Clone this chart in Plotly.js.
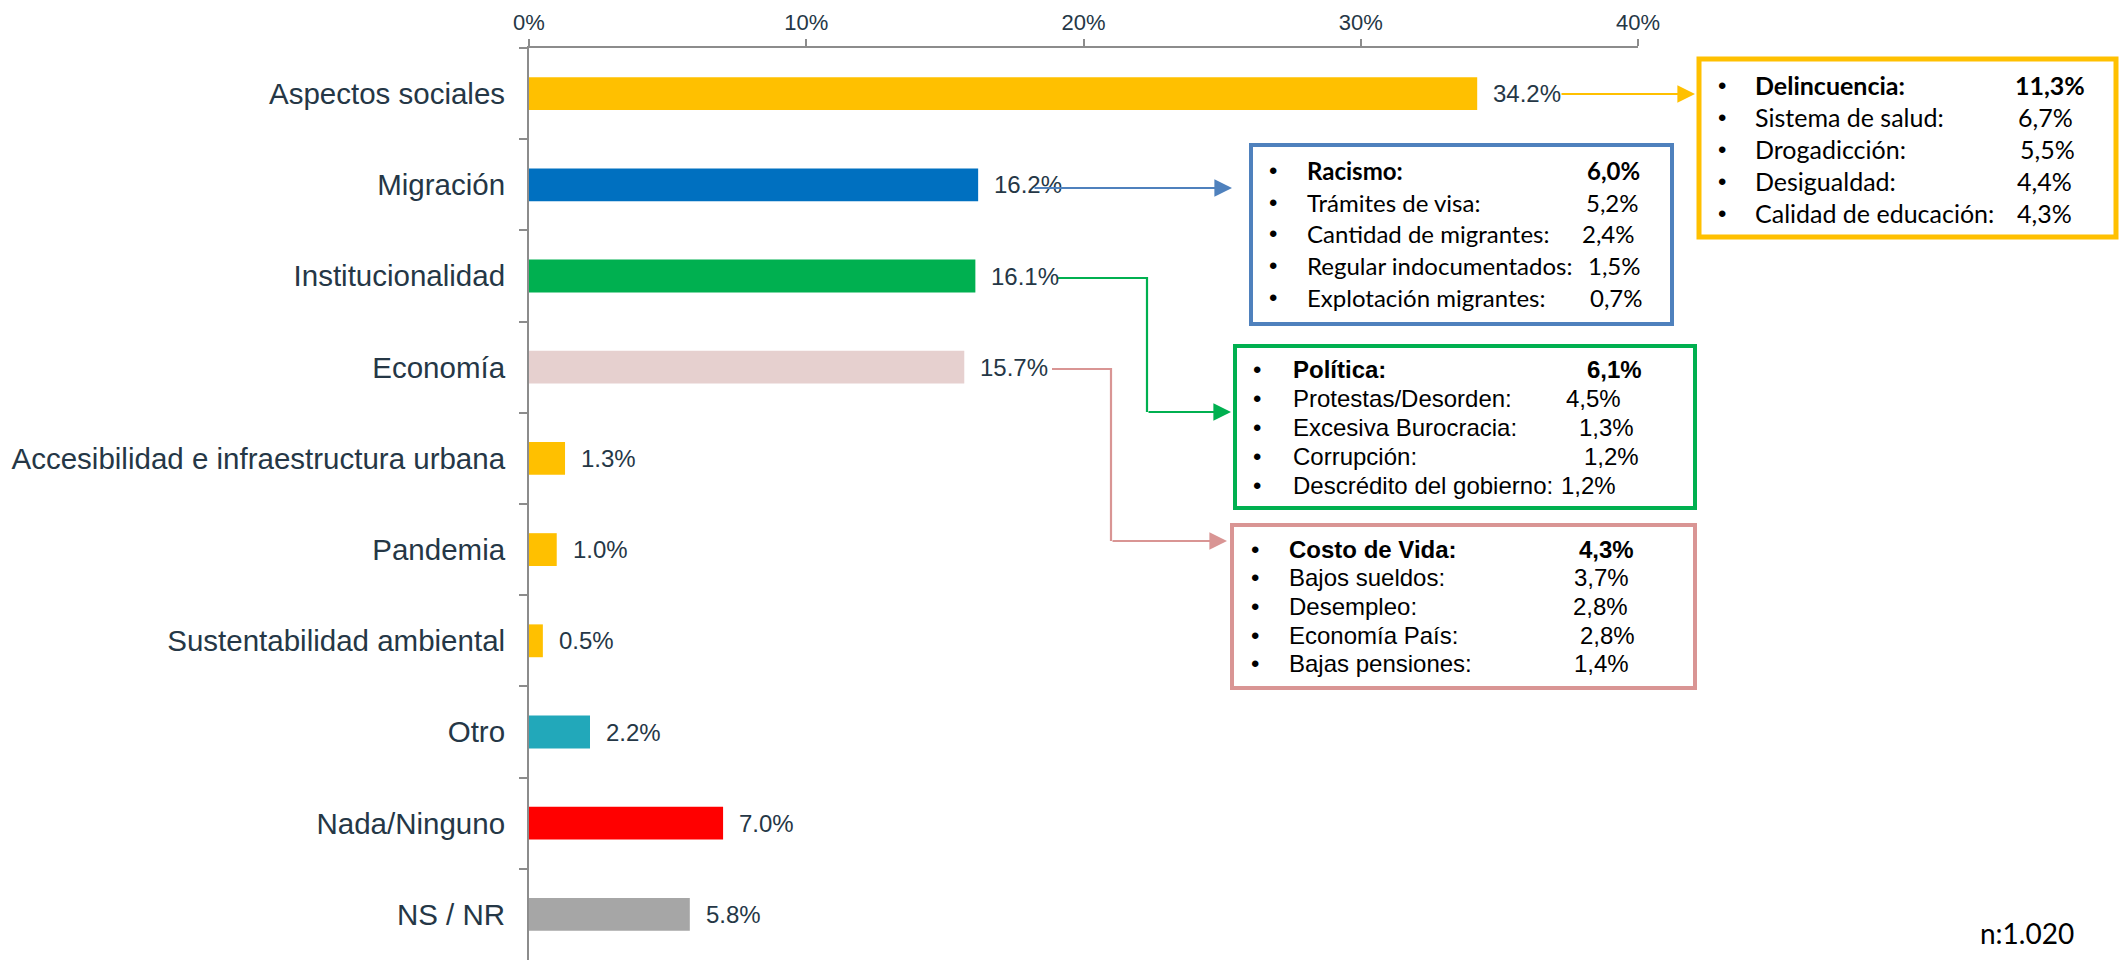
<!DOCTYPE html>
<html>
<head>
<meta charset="utf-8">
<script src="https://cdn.plot.ly/plotly-3.0.1.min.js"></script>
<style>html,body{margin:0;padding:0;background:#fff;}#chart{width:2120px;height:960px;}</style>
</head>
<body>
<div id="chart"></div>
<script>
// ---------- DATA ----------
const categories = ['Aspectos sociales', 'Migración', 'Institucionalidad', 'Economía',
  'Accesibilidad e infraestructura urbana', 'Pandemia', 'Sustentabilidad ambiental',
  'Otro', 'Nada/Ninguno', 'NS / NR'];
const values = [34.2, 16.2, 16.1, 15.7, 1.3, 1.0, 0.5, 2.2, 7.0, 5.8];
const xTickValues = [0, 10, 20, 30, 40];

const socialItems = ['Delincuencia:', 'Sistema de salud:', 'Drogadicción:', 'Desigualdad:', 'Calidad de educación:'];
const socialValues = [11.3, 6.7, 5.5, 4.4, 4.3];
const migrationItems = ['Racismo:', 'Trámites de visa:', 'Cantidad de migrantes:', 'Regular indocumentados:', 'Explotación migrantes:'];
const migrationValues = [6.0, 5.2, 2.4, 1.5, 0.7];
const institutionalItems = ['Política:', 'Protestas/Desorden:', 'Excesiva Burocracia:', 'Corrupción:', 'Descrédito del gobierno:'];
const institutionalValues = [6.1, 4.5, 1.3, 1.2, 1.2];
const economyItems = ['Costo de Vida:', 'Bajos sueldos:', 'Desempleo:', 'Economía País:', 'Bajas pensiones:'];
const economyValues = [4.3, 3.7, 2.8, 2.8, 1.4];
const sampleNote = 'n:1.020';

// ---------- STYLE ----------
const barColors = ['#FFC000', '#0070C0', '#00B050', '#E6D0CF', '#FFC000', '#FFC000', '#FFC000', '#22A8BA', '#FF0000', '#A6A6A6'];
const W = 2120, H = 960;
const M = {l: 529, r: 2120 - 1638, t: 48, b: 0};
const PW = W - M.l - M.r, PH = H - M.t - M.b;
const X = px => (px - M.l) / PW;
const Y = py => 1 - (py - M.t) / PH;
const textColor = '#253746';
const axisColor = '#8C8C8C';
const pct1 = v => v.toFixed(1) + '%';
const pctComma = v => v.toFixed(1).replace('.', ',') + '%';

const boxes = [
  {items: socialItems, vals: socialValues, color: '#FFC000', lw: 5, rect: [1699, 59, 2116, 237],
   bulletX: 1722, labelX: 1753, valRight: [2087, 2075, 2077, 2074, 2074], rows: [85, 117, 149, 181, 213],
   font: 'Lato, Carlito, sans-serif', size: 25},
  {items: migrationItems, vals: migrationValues, color: '#4F81BD', lw: 4, rect: [1251, 145, 1672, 324],
   bulletX: 1273, labelX: 1305, valRight: [1642, 1641, 1637, 1643, 1645], rows: [170, 202, 233, 265, 297],
   font: 'Lato, Carlito, sans-serif', size: 24},
  {items: institutionalItems, vals: institutionalValues, color: '#00B050', lw: 4, rect: [1235, 346, 1695, 508],
   bulletX: 1257, labelX: 1291, valRight: [1644, 1623, 1636, 1641, 1618], rows: [369, 398, 427, 456, 485],
   font: 'Arial, Liberation Sans, sans-serif', size: 24},
  {items: economyItems, vals: economyValues, color: '#D99594', lw: 4, rect: [1232, 525, 1695, 688],
   bulletX: 1255, labelX: 1287, valRight: [1636, 1631, 1630, 1637, 1631], rows: [549, 577, 606, 635, 663],
   font: 'Arial, Liberation Sans, sans-serif', size: 24}
];

const shapes = [];
const annotations = [];

// value labels next to bars (positioned via data axes)
categories.forEach((c, i) => {
  annotations.push({x: values[i], y: c, xref: 'x', yref: 'y', xanchor: 'left', yanchor: 'middle',
    xshift: 14, showarrow: false, text: pct1(values[i]),
    font: {family: 'Arial, Liberation Sans, sans-serif', size: 24, color: textColor}});
});

boxes.forEach(b => {
  shapes.push({type: 'rect', xref: 'paper', yref: 'paper', x0: X(b.rect[0]), x1: X(b.rect[2]),
    y0: Y(b.rect[3]), y1: Y(b.rect[1]), line: {color: b.color, width: b.lw}, fillcolor: 'rgba(0,0,0,0)'});
  b.items.forEach((it, k) => {
    const bold = k === 0;
    const f = {family: b.font, size: b.size, color: '#000'};
    annotations.push({x: X(b.bulletX), y: Y(b.rows[k]), xref: 'paper', yref: 'paper', xanchor: 'center',
      yanchor: 'middle', showarrow: false, text: '•', font: {family: 'Arial, sans-serif', size: 24, color: '#000'}});
    annotations.push({x: X(b.labelX), y: Y(b.rows[k]), xref: 'paper', yref: 'paper', xanchor: 'left',
      yanchor: 'middle', showarrow: false, text: bold ? '<b>' + it + '</b>' : it, font: f});
    annotations.push({x: X(b.valRight[k]), y: Y(b.rows[k]), xref: 'paper', yref: 'paper', xanchor: 'right',
      yanchor: 'middle', showarrow: false, text: bold ? '<b>' + pctComma(b.vals[k]) + '</b>' : pctComma(b.vals[k]), font: f});
  });
});

// connectors
function arrow(x0, y0, x1, color) {
  annotations.push({x: X(x1), y: Y(y0), xref: 'paper', yref: 'paper', ax: x0 - x1, ay: 0,
    axref: 'pixel', ayref: 'pixel', showarrow: true, arrowhead: 2, arrowsize: 1.6, arrowwidth: 2.2,
    arrowcolor: color, standoff: 0, text: ''});
}
function path(pts, color) {
  const d = pts.map((p, i) => (i ? 'L' : 'M') + X(p[0]) + ',' + Y(p[1])).join(' ');
  shapes.push({type: 'path', xref: 'paper', yref: 'paper', path: d, line: {color: color, width: 2.2}});
}
arrow(1560, 94, 1695, '#FFC000');
arrow(1033, 188, 1232, '#4F81BD');
path([[1058, 278], [1147, 278], [1147, 412]], '#00B050');
arrow(1147, 412, 1231, '#00B050');
path([[1052, 369], [1111, 369], [1111, 541]], '#D99594');
arrow(1111, 541, 1227, '#D99594');

annotations.push({x: X(2027), y: Y(933), xref: 'paper', yref: 'paper', xanchor: 'center', yanchor: 'middle',
  showarrow: false, text: sampleNote, font: {family: 'Lato, Carlito, sans-serif', size: 28, color: '#000'}});

const trace = {
  type: 'bar', orientation: 'h', x: values, y: categories,
  marker: {color: barColors, line: {width: 0}}, width: 0.36,
  hoverinfo: 'none', cliponaxis: false
};

const layout = {
  width: W, height: H, margin: M, paper_bgcolor: '#fff', plot_bgcolor: '#fff',
  showlegend: false,
  font: {family: 'Arial, Liberation Sans, sans-serif', color: textColor},
  xaxis: {
    side: 'top', range: [0, 40], tickvals: xTickValues, ticktext: xTickValues.map(v => v + '%'),
    ticks: 'outside', ticklen: 7, tickwidth: 2, tickcolor: axisColor,
    showline: true, linecolor: axisColor, linewidth: 2, showgrid: false, zeroline: false,
    tickfont: {size: 22, color: textColor}, fixedrange: true
  },
  yaxis: {
    type: 'category', categoryorder: 'array', categoryarray: categories, autorange: 'reversed',
    tickson: 'boundaries', ticks: 'outside', ticklen: 8, tickwidth: 2, tickcolor: axisColor,
    showline: true, linecolor: axisColor, linewidth: 2, showgrid: false, zeroline: false,
    tickfont: {size: 29.5, color: textColor}, ticklabelstandoff: 16, fixedrange: true
  },
  shapes: shapes,
  annotations: annotations
};

Plotly.newPlot('chart', [trace], layout, {displayModeBar: false, staticPlot: true});
</script>
</body>
</html>
